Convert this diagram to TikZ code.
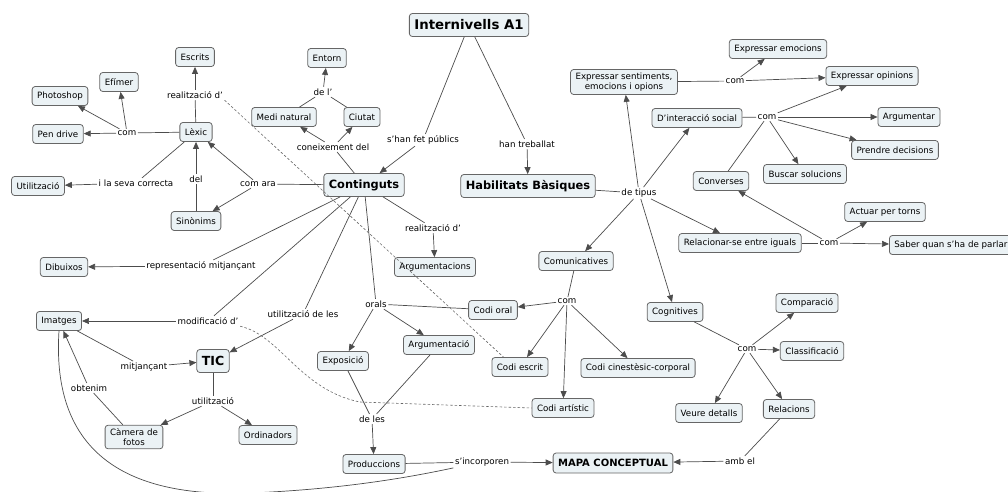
\documentclass[tikz,border=0pt]{standalone}
\usepackage{fontspec}
\setmainfont{DejaVu Sans}
\usetikzlibrary{arrows.meta}
\definecolor{cmapfill}{RGB}{235,242,245}

\begin{document}
\begin{tikzpicture}[
  x=1pt, y=-1pt,
  concept/.style={draw=black!60, fill=cmapfill, rounded corners=3pt, line width=0.8pt, align=center, inner xsep=5pt, inner ysep=3pt, minimum height=19pt, font=\fontsize{8.7}{10.5}\selectfont},
  main/.style={concept, font=\bfseries\fontsize{11.4}{13}\selectfont, minimum height=23pt},
  link/.style={fill=white, inner sep=1.5pt, font=\fontsize{8.7}{10.5}\selectfont},
  line/.style={draw=black!70, line width=0.7pt},
  arrow/.style={line, -{Triangle[length=7pt,width=6pt]}},
  dashline/.style={draw=black!60, line width=0.6pt, dash pattern=on 2.5pt off 2pt}
]
\useasboundingbox (0,0) rectangle (1008,491);

% Concepts
\node[main, font=\bfseries\fontsize{13.3}{15}\selectfont] (intern) at (469,25) {Internivells A1};
\node[main] (contin) at (364,185) {Continguts};
\node[main] (habil) at (528,186) {Habilitats Bàsiques};
\node[main, font=\bfseries\fontsize{12.5}{14}\selectfont] (tic) at (213,361) {TIC};
\node[main, font=\bfseries\fontsize{10}{12}\selectfont, minimum height=20pt] (mapa) at (613,463) {MAPA CONCEPTUAL};
\node[concept] (escrits) at (195,57) {Escrits};
\node[concept] (efimer) at (119,82) {Efímer};
\node[concept] (photo) at (60,96) {Photoshop};
\node[concept] (pendrive) at (58,134) {Pen drive};
\node[concept] (lexic) at (196,132) {Lèxic};
\node[concept] (utilitz) at (38,186) {Utilització};
\node[concept] (sinon) at (196,221) {Sinònims};
\node[concept] (medi) at (284,117) {Medi natural};
\node[concept] (entorn) at (327,58) {Entorn};
\node[concept] (ciutat) at (362,117) {Ciutat};
\node[concept] (argums) at (435,267) {Argumentacions};
\node[concept] (dibuix) at (64,267) {Dibuixos};
\node[concept] (imatges) at (59,321) {Imatges};
\node[concept] (camera) at (134,437) {Càmera de\\fotos};
\node[concept] (ordin) at (268,435) {Ordinadors};
\node[concept] (exposic) at (343,361) {Exposició};
\node[concept] (argum) at (439,345) {Argumentació};
\node[concept] (produc) at (374,464) {Produccions};
\node[concept] (codioral) at (493,310) {Codi oral};
\node[concept] (codiesc) at (520,367) {Codi escrit};
\node[concept] (codiart) at (563,408) {Codi artístic};
\node[concept] (codicin) at (638,368) {Codi cinestèsic-corporal};
\node[concept] (comunic) at (576,261) {Comunicatives};
\node[concept] (cognit) at (675,312) {Cognitives};
\node[concept] (compar) at (807,303) {Comparació};
\node[concept] (classif) at (812,351) {Classificació};
\node[concept] (relac) at (789,409) {Relacions};
\node[concept] (veure) at (709,413) {Veure detalls};
\node[concept] (exprsent) at (624,82) {Expressar sentiments,\\emocions i opions};
\node[concept] (expremo) at (778,49) {Expressar emocions};
\node[concept] (expropi) at (872,76) {Expressar opinions};
\node[concept] (interac) at (697,118) {D'interacció social};
\node[concept] (argumen) at (909,117) {Argumentar};
\node[concept] (prendre) at (895,150) {Prendre decisions};
\node[concept] (buscar) at (805,174) {Buscar solucions};
\node[concept] (convers) at (721,181) {Converses};
\node[concept] (actuar) at (885,212) {Actuar per torns};
\node[concept] (relacig) at (740,243) {Relacionar-se entre iguals};
\node[concept, anchor=west] (saber) at (889,245) {Saber quan s'ha de parlar};

% Linking phrases
\node[link] (lkpublic) at (423,140) {s'han fet públics};
\node[link] (lktreb) at (527,144) {han treballat};
\node[link] (lkcon) at (333,147) {coneixement del};
\node[link] (lkdel1) at (323,92) {de l'};
\node[link] (lkara) at (258,184) {com ara};
\node[link] (lkreal1) at (195,95) {realització d'};
\node[link] (lkcom1) at (127,133) {com};
\node[link] (lkcorr) at (136,183) {i la seva correcta};
\node[link] (lkdel) at (196,179) {del};
\node[link] (lkreal2) at (433,228) {realització d'};
\node[link] (lkrepr) at (201,266) {representació mitjançant};
\node[link] (lkmod) at (208,321) {modificació d'};
\node[link] (lkutil) at (303,314) {utilització de les};
\node[link] (lkorals) at (376,304) {orals};
\node[link] (lkmitj) at (144,367) {mitjançant};
\node[link] (lkobt) at (89,388) {obtenim};
\node[link] (lkutil2) at (213,401) {utilització};
\node[link] (lkdeles) at (372,419) {de les};
\node[link] (lkinc) at (482,462) {s'incorporen};
\node[link] (lkamb) at (740,461) {amb el};
\node[link] (lktipus) at (639,193) {de tipus};
\node[link] (lkcom2) at (735,81) {com};
\node[link] (lkcom3) at (767,117) {com};
\node[link] (lkcom4) at (829,243) {com};
\node[link] (lkcom5) at (567,301) {com};
\node[link] (lkcom6) at (747,349) {com};

% Arrows
\draw[line] (intern) -- (lkpublic);
\draw[arrow] (lkpublic) -- (contin);
\draw[line] (intern) -- (lktreb);
\draw[arrow] (lktreb) -- (habil);

\draw[line] (contin) -- (lkcon);
\draw[arrow] (lkcon) -- (medi);
\draw[arrow] (lkcon) -- (ciutat);
\draw[line] (medi) -- (lkdel1);
\draw[line] (ciutat) -- (lkdel1);
\draw[arrow] (lkdel1) -- (entorn);

\draw[line] (contin) -- (lkara);
\draw[arrow] (lkara) -- (lexic);
\draw[arrow] (lkara) -- (sinon);
\draw[line] (sinon) -- (lkdel);
\draw[arrow] (lkdel) -- (lexic);
\draw[line] (lexic) -- (lkreal1);
\draw[arrow] (lkreal1) -- (escrits);
\draw[line] (lexic) -- (lkcom1);
\draw[arrow] (lkcom1) -- (pendrive);
\draw[arrow] (lkcom1) -- (photo);
\draw[arrow] (lkcom1) -- (efimer);
\draw[line] (lexic) -- (lkcorr);
\draw[arrow] (lkcorr) -- (utilitz);

\draw[line] (contin) -- (lkreal2);
\draw[arrow] (lkreal2) -- (argums);
\draw[line] (contin) -- (lkrepr);
\draw[arrow] (lkrepr) -- (dibuix);
\draw[line] (contin) -- (lkmod);
\draw[arrow] (lkmod) -- (imatges);
\draw[line] (contin) -- (lkutil);
\draw[arrow] (lkutil) -- (tic);
\draw[line] (contin) -- (lkorals);
\draw[line] (codioral) -- (lkorals);
\draw[arrow] (lkorals) -- (exposic);
\draw[arrow] (lkorals) -- (argum);

\draw[line] (imatges) -- (lkmitj);
\draw[arrow] (lkmitj) -- (tic);
\draw[line] (camera) -- (lkobt);
\draw[arrow] (lkobt) -- (imatges);
\draw[line] (tic) -- (lkutil2);
\draw[arrow] (lkutil2) -- (camera);
\draw[arrow] (lkutil2) -- (ordin);

\draw[line] (exposic) -- (lkdeles);
\draw[line] (argum) -- (lkdeles);
\draw[arrow] (lkdeles) -- (produc);
\draw[line] (produc) -- (lkinc);
\draw[line] (imatges.south) .. controls (50,470) and (150,497) .. (250,493)
  .. controls (350,489) and (420,475) .. (lkinc.south west);
\draw[arrow] (lkinc) -- (mapa);
\draw[line] (relac) -- (lkamb);
\draw[arrow] (lkamb) -- (mapa);

\draw[line] (habil) -- (lktipus);
\draw[arrow] (lktipus) -- (exprsent);
\draw[arrow] (lktipus) -- (interac);
\draw[arrow] (lktipus) -- (relacig);
\draw[arrow] (lktipus) -- (comunic);
\draw[arrow] (lktipus) -- (cognit);

\draw[line] (exprsent) -- (lkcom2);
\draw[arrow] (lkcom2) -- (expremo);
\draw[arrow] (lkcom2) -- (expropi);
\draw[line] (interac) -- (lkcom3);
\draw[line] (convers) -- (lkcom3);
\draw[arrow] (lkcom3) -- (expropi);
\draw[arrow] (lkcom3) -- (argumen);
\draw[arrow] (lkcom3) -- (prendre);
\draw[arrow] (lkcom3) -- (buscar);
\draw[line] (relacig) -- (lkcom4);
\draw[arrow] (lkcom4) -- (convers);
\draw[arrow] (lkcom4) -- (actuar);
\draw[arrow] (lkcom4) -- (saber);

\draw[line] (comunic) -- (lkcom5);
\draw[arrow] (lkcom5) -- (codioral);
\draw[arrow] (lkcom5) -- (codiesc);
\draw[arrow] (lkcom5) -- (codiart);
\draw[arrow] (lkcom5) -- (codicin);
\draw[line] (cognit) -- (lkcom6);
\draw[arrow] (lkcom6) -- (compar);
\draw[arrow] (lkcom6) -- (classif);
\draw[arrow] (lkcom6) -- (relac);
\draw[arrow] (lkcom6) -- (veure);

% Dashed links
\draw[dashline] (lkreal1.south east) -- ([xshift=12pt]codiesc.north west);
\draw[dashline] (lkmod.south east) .. controls (280,335) and (300,390) .. (360,402) -- (codiart.west);

\end{tikzpicture}
\end{document}
